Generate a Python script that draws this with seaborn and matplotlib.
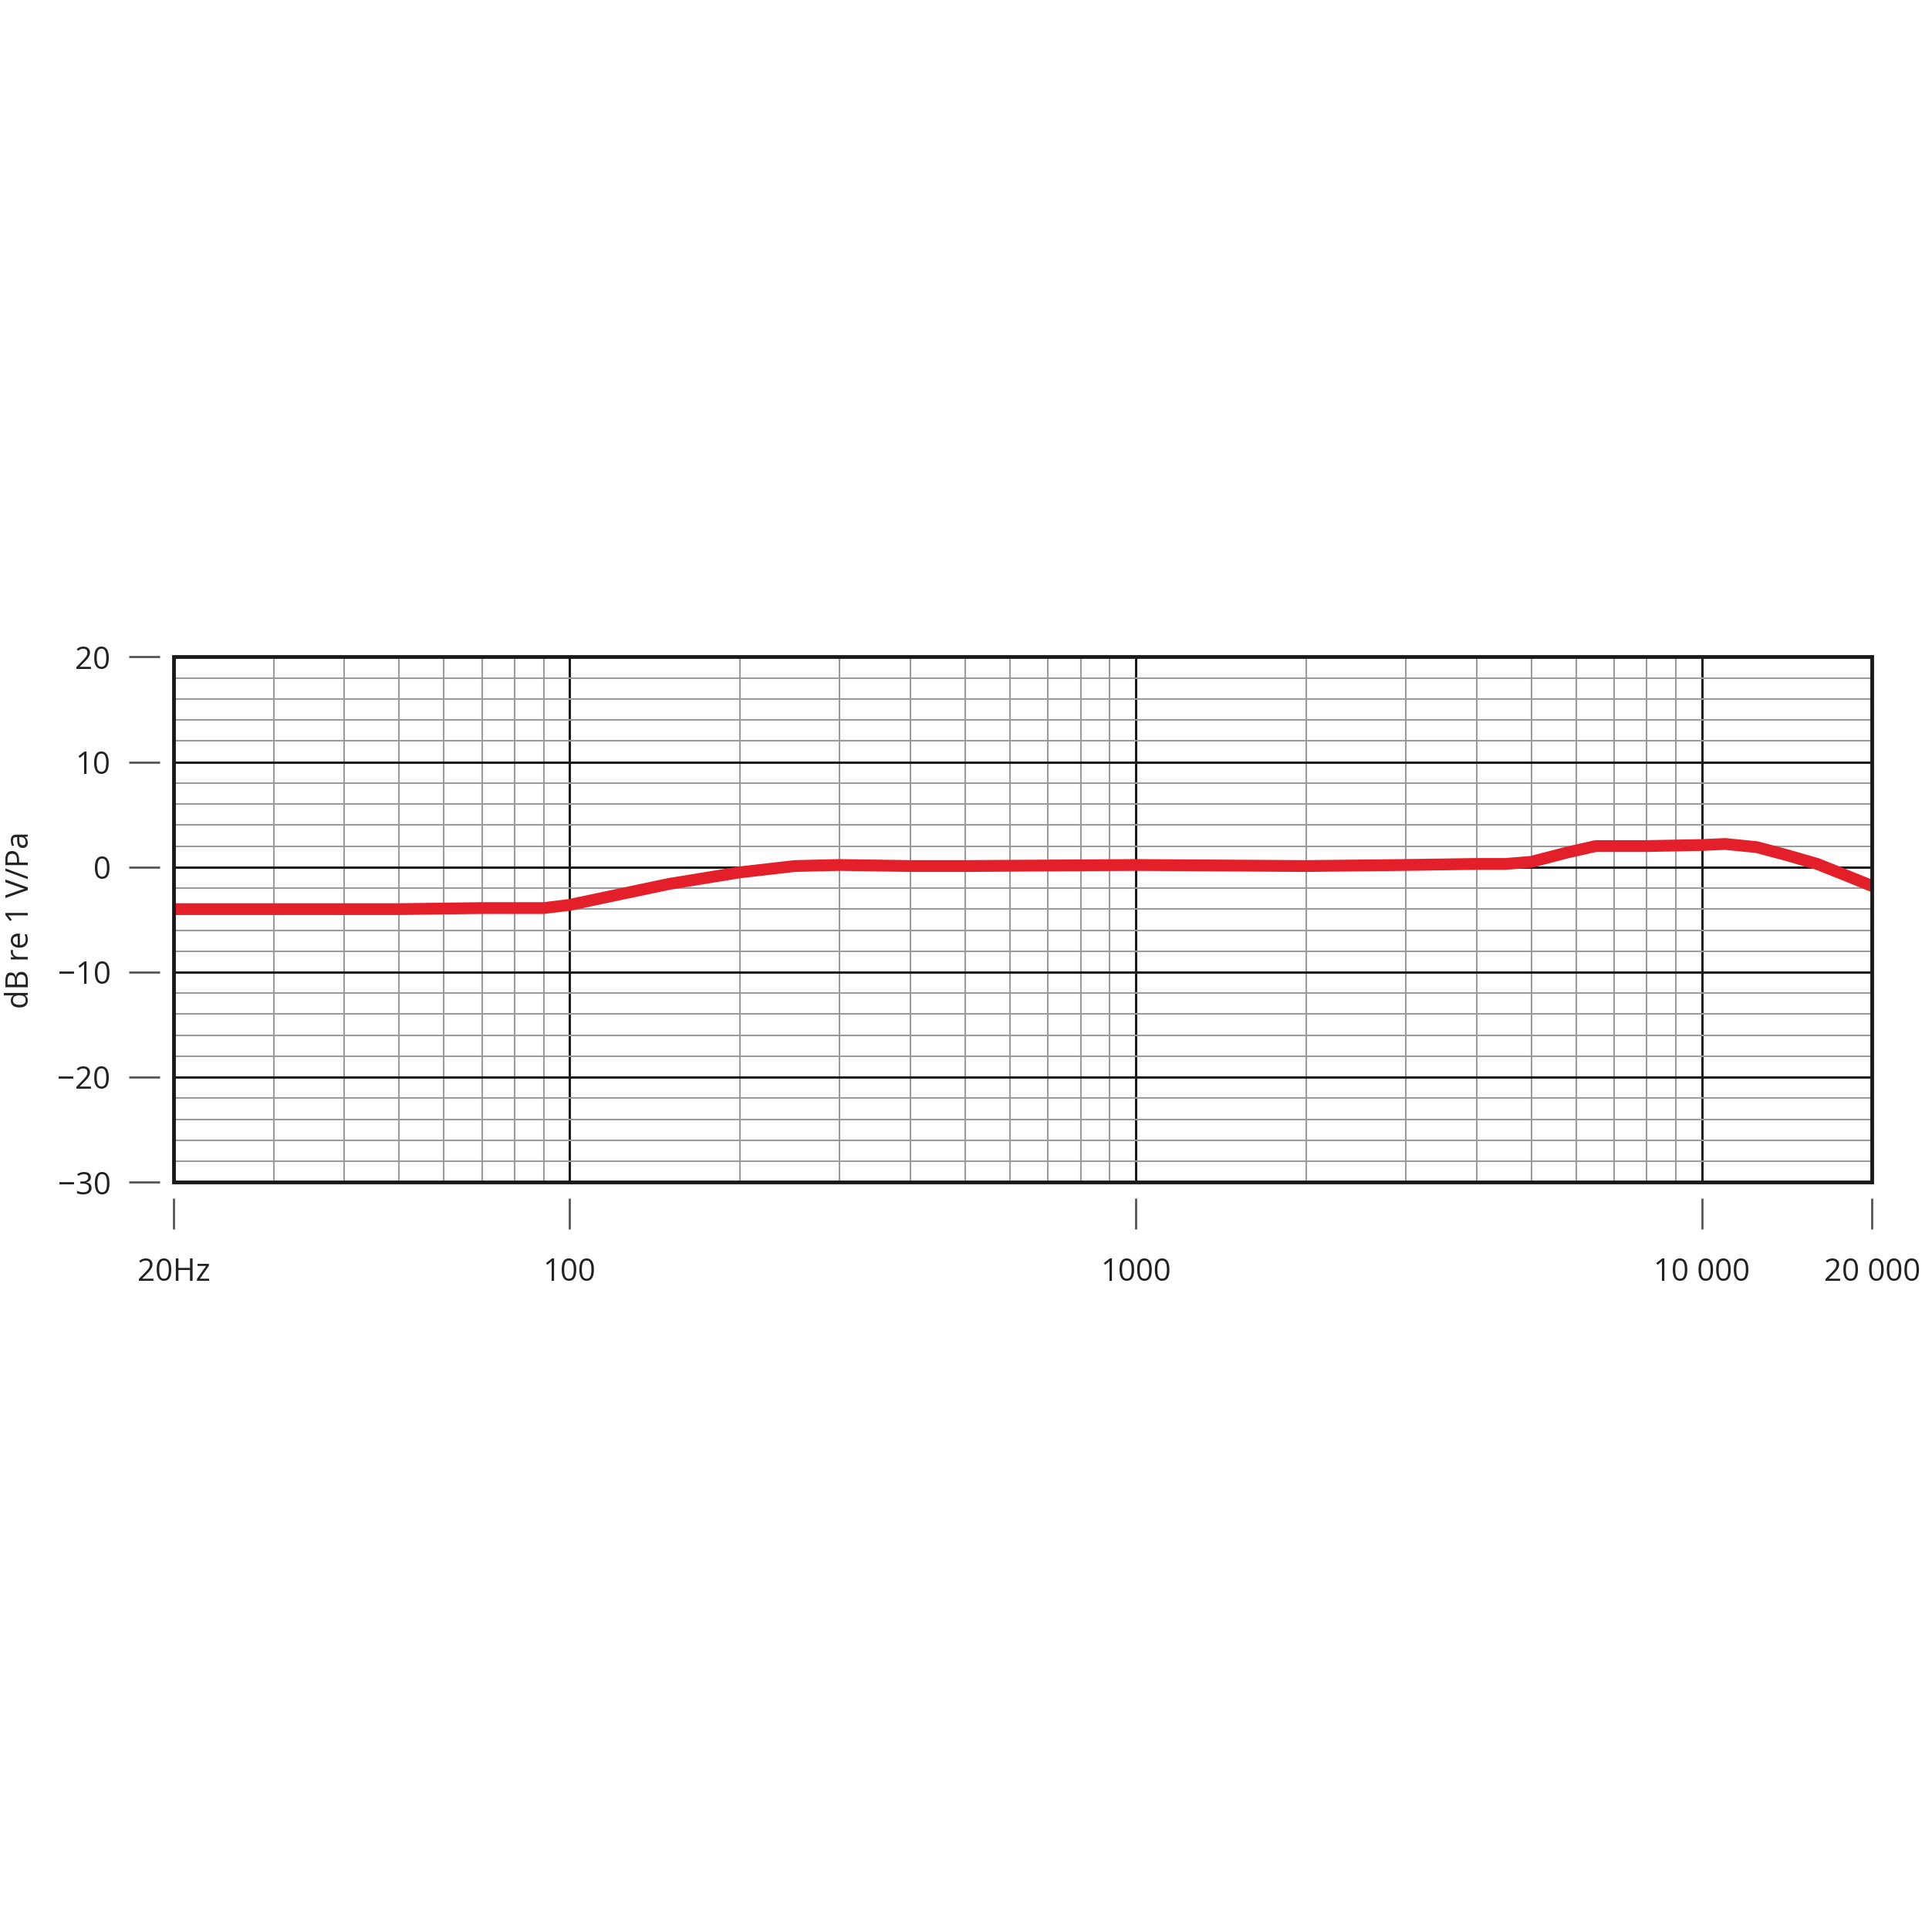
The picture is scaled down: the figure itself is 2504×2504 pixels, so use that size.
import matplotlib
matplotlib.use("Agg")
import matplotlib.pyplot as plt
import seaborn as sns
import pandas as pd
from matplotlib.ticker import FixedLocator, MultipleLocator, NullFormatter
from matplotlib.patches import Rectangle

freq = [20, 30, 50, 70, 90, 100, 120, 150, 200, 250, 300, 400, 500, 1000, 2000, 3000, 4000, 4500, 5000, 5800, 6500, 8000, 10000, 11000, 12500, 14000, 16000, 18000, 20000]
level = [-4.0, -4.0, -4.0, -3.9, -3.9, -3.6, -2.7, -1.6, -0.5, 0.1, 0.2, 0.1, 0.1, 0.2, 0.1, 0.2, 0.3, 0.3, 0.5, 1.4, 2.0, 2.0, 2.1, 2.2, 1.9, 1.2, 0.3, -0.8, -1.8]
xticks = [20, 100, 1000, 10000, 20000]
xticklabels = ["20Hz", "100", "1000", "10 000", "20 000"]
yticks = [-30, -20, -10, 0, 10, 20]

sns.set_style("white")
plt.rcParams['font.family'] = ['Open Sans', 'DejaVu Sans']

df = pd.DataFrame({"f": freq, "dB": level})
fig = plt.figure(figsize=(25.04, 25.04), dpi=100)
ax = fig.add_axes([0.090, 0.388, 0.879, 0.272])
sns.lineplot(data=df, x="f", y="dB", ax=ax, color="#e3202a", linewidth=11, zorder=5)
ax.set_xscale("log")
ax.set_xlim(20, 20000)
ax.set_ylim(-30, 20)

ax.xaxis.set_major_locator(FixedLocator(xticks))
ax.set_xticklabels(xticklabels)
ax.xaxis.set_minor_locator(FixedLocator([m * d for d in (10, 100, 1000) for m in range(2, 10) if 20 <= m * d <= 20000 and m * d not in xticks]))
ax.xaxis.set_minor_formatter(NullFormatter())
ax.set_yticks(yticks)
ax.yaxis.set_minor_locator(MultipleLocator(2))

ax.grid(which="major", color="#1a1a1a", linewidth=2.2)
ax.grid(which="minor", color="#9a9a9a", linewidth=1.5)
ax.set_axisbelow(True)

for s in ("top", "right"):
    ax.spines[s].set_visible(False)
ax.spines["left"].set_position(("outward", 13))
ax.spines["bottom"].set_position(("outward", 15))
ax.spines["left"].set_visible(False)
ax.spines["bottom"].set_visible(False)
ax.add_patch(Rectangle((0, 0), 1, 1, transform=ax.transAxes, fill=False, edgecolor="#1a1a1a", linewidth=3.5, zorder=6, clip_on=False))

ax.tick_params(axis="y", which="major", left=True, length=29, width=2, color="#555555", pad=17, labelsize=29, labelcolor="#222222")
ax.tick_params(axis="x", which="major", bottom=True, length=29, width=2, color="#555555", pad=26, labelsize=29, labelcolor="#222222")
ax.tick_params(which="minor", length=0)

ax.set_xlabel("")
ax.set_ylabel("dB re 1 V/Pa", fontsize=29, color="#222222", labelpad=20)
fig.savefig("out.png", dpi=100, facecolor="white")
